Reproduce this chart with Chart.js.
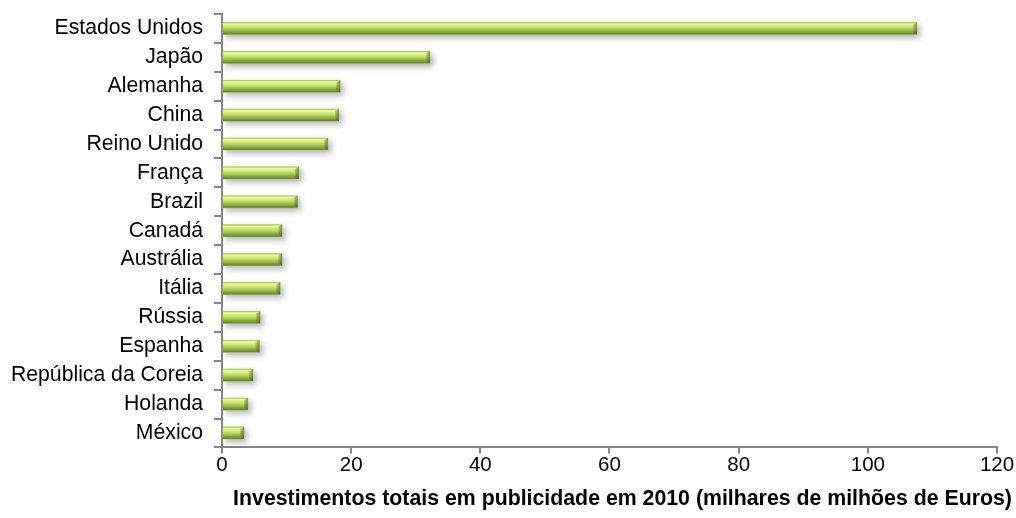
<!DOCTYPE html>
<html lang="pt">
<head>
<meta charset="UTF-8">
<title>Investimentos em publicidade 2010</title>
<script src="https://cdn.jsdelivr.net/npm/chart.js"></script>
<style>
  html, body { margin: 0; padding: 0; background: #fff; }
  #wrap { width: 1016px; height: 518px; }
</style>
</head>
<body>
<div id="wrap"><canvas id="chart" width="1016" height="518"></canvas></div>
<script>
// paises e investimento (milhares de milhões de euros)
const paises = ['Estados Unidos', 'Japão', 'Alemanha', 'China', 'Reino Unido', 'França', 'Brazil',
  'Canadá', 'Austrália', 'Itália', 'Rússia', 'Espanha', 'República da Coreia', 'Holanda', 'México'];
const investimento = [107.6, 32.2, 18.3, 18.1, 16.4, 11.9, 11.7, 9.3, 9.3, 9.0, 5.9, 5.8, 4.8, 4.0, 3.4];
const xTicks = [0, 20, 40, 60, 80, 100, 120];
const tituloX = 'Investimentos totais em publicidade em 2010 (milhares de milhões de Euros)';

const FONT = '"Liberation Sans", Arial, sans-serif';
const AXIS = '#868686';

// sombra por baixo das barras + brilho "3D" por cima
const bevel = {
  id: 'bevel',
  beforeDatasetsDraw(chart) {
    const ctx = chart.ctx;
    ctx.save();
    ctx.shadowColor = 'rgba(0,0,0,0.3)';
    ctx.shadowBlur = 6;
    ctx.shadowOffsetX = 3;
    ctx.shadowOffsetY = 3;
  },
  afterDatasetsDraw(chart) {
    const ctx = chart.ctx;
    ctx.restore();
    const meta = chart.getDatasetMeta(0);
    ctx.save();
    meta.data.forEach(bar => {
      const h = bar.height;
      const top = bar.y - h / 2;
      const left = Math.min(bar.base, bar.x);
      const w = Math.abs(bar.x - bar.base);
      const g = ctx.createLinearGradient(0, top, 0, top + h);
      g.addColorStop(0, '#a4c456');
      g.addColorStop(0.12, '#ecfaa0');
      g.addColorStop(0.35, '#cfe878');
      g.addColorStop(0.55, '#b0d058');
      g.addColorStop(0.78, '#88a840');
      g.addColorStop(1, '#607e2c');
      ctx.fillStyle = g;
      ctx.fillRect(left, top, w, h);
      // ponta da barra
      const cap = Math.min(4, w);
      const g2 = ctx.createLinearGradient(left + w - cap, 0, left + w, 0);
      g2.addColorStop(0, 'rgba(70,95,25,0.15)');
      g2.addColorStop(1, 'rgba(70,95,25,0.7)');
      ctx.fillStyle = g2;
      ctx.beginPath();
      ctx.moveTo(left + w - cap, top + 2);
      ctx.lineTo(left + w, top);
      ctx.lineTo(left + w, top + h);
      ctx.lineTo(left + w - cap, top + h - 2);
      ctx.closePath();
      ctx.fill();
    });
    ctx.restore();
  }
};

// titulo do eixo X, um pouco deslocado para a direita como no Excel
const xTitle = {
  id: 'xTitle',
  afterDraw(chart) {
    const ctx = chart.ctx;
    const x = chart.scales.x;
    ctx.save();
    ctx.font = 'bold 21.3px ' + FONT;
    ctx.fillStyle = '#000';
    ctx.textAlign = 'center';
    ctx.textBaseline = 'middle';
    ctx.fillText(tituloX, (x.left + x.right) / 2 + 13, x.top + 52);
    ctx.restore();
  }
};

new Chart(document.getElementById('chart'), {
  type: 'bar',
  data: {
    labels: paises,
    datasets: [{
      data: investimento,
      backgroundColor: '#b0d058',
      borderWidth: 0,
      barThickness: 12
    }]
  },
  options: {
    indexAxis: 'y',
    responsive: false,
    animation: false,
    layout: { padding: { left: 0, top: 14, right: 19, bottom: 40 } },
    plugins: {
      legend: { display: false },
      tooltip: { enabled: false }
    },
    scales: {
      x: {
        min: 0,
        max: 120,
        afterBuildTicks: axis => { axis.ticks = xTicks.map(v => ({ value: v })); },
        grid: { drawOnChartArea: false, drawTicks: true, tickLength: 6, color: AXIS, lineWidth: 2 },
        border: { color: AXIS, width: 2 },
        ticks: { color: '#000', font: { family: FONT, size: 20.5 }, padding: 0 }
      },
      y: {
        afterFit: scale => { scale.paddingTop = 0; scale.paddingBottom = 0; },
        grid: { drawOnChartArea: false, drawTicks: true, tickLength: 8, color: AXIS, lineWidth: 2, offset: true },
        border: { color: AXIS, width: 2 },
        ticks: { color: '#000', font: { family: FONT, size: 21.2 }, padding: 11, autoSkip: false }
      }
    }
  },
  plugins: [bevel, xTitle]
});
</script>
</body>
</html>
